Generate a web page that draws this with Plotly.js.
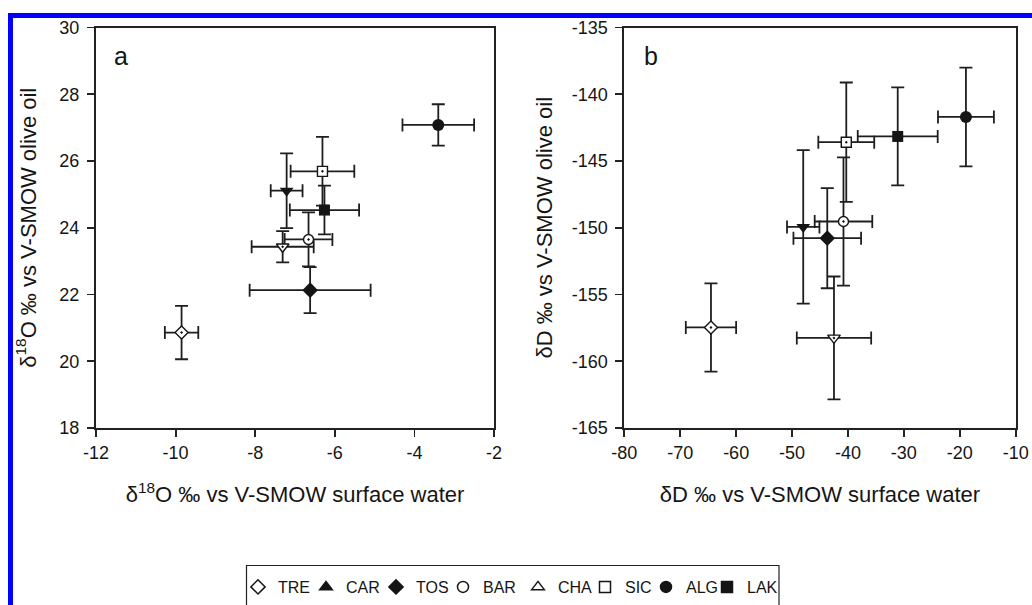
<!DOCTYPE html>
<html>
<head>
<meta charset="utf-8">
<script src="https://cdn.plot.ly/plotly-3.0.1.min.js"></script>
<style>
  html, body { margin: 0; padding: 0; background: #fff; }
  #chart { width: 1032px; height: 605px; }
</style>
</head>
<body>
<div id="chart"></div>
<script>
// ---- data ----
const categories = ['TRE', 'CAR', 'TOS', 'BAR', 'CHA', 'SIC', 'ALG', 'LAK'];

// panel a: delta 18O
const water18O    = [-9.85, -7.21, -6.62, -6.66, -7.31, -6.31, -3.40, -6.26];
const water18OErr = [0.42, 0.40, 1.52, 0.60, 0.78, 0.80, 0.90, 0.87];
const oil18O      = [20.86, 25.11, 22.13, 23.65, 23.43, 25.69, 27.08, 24.53];
const oil18OErr   = [0.80, 1.12, 0.69, 0.81, 0.47, 1.03, 0.62, 0.73];

// panel b: delta D
const waterD    = [-64.5, -48.0, -43.7, -40.8, -42.5, -40.3, -18.9, -31.1];
const waterDErr = [4.5, 2.9, 6.05, 5.15, 6.65, 5.0, 5.0, 7.15];
const oilD      = [-157.47, -149.94, -150.78, -149.53, -158.25, -143.59, -141.70, -143.16];
const oilDErr   = [3.3, 5.75, 3.75, 4.8, 4.6, 4.47, 3.7, 3.67];

// tick values
const ticksA_x = [-12, -10, -8, -6, -4, -2];
const ticksA_y = [18, 20, 22, 24, 26, 28, 30];
const ticksB_x = [-80, -70, -60, -50, -40, -30, -20, -10];
const ticksB_y = [-165, -160, -155, -150, -145, -140, -135];

// ---- styles ----
const INK = '#151515';
const plotSymbols   = ['diamond-dot', 'triangle-down', 'diamond', 'circle-dot', 'triangle-down-dot', 'square-dot', 'circle', 'square'];
const legendSymbols = ['diamond-open', 'triangle-up', 'diamond', 'circle-open', 'triangle-up-open', 'square-open', 'circle', 'square'];
const isOpen        = [true, false, false, true, true, true, false, false];
const sizes         = [10, 12, 12, 10, 11, 10, 12, 11];
// left edge (px) of each legend entry in the bottom key
const legendLeftPx  = [238, 306, 376, 443, 518, 585, 646, 707];

const FONT = '"Liberation Sans", Arial, Helvetica, sans-serif';

function markerFor(i) {
  return isOpen[i]
    ? {symbol: plotSymbols[i], size: sizes[i], color: '#ffffff', line: {color: INK, width: 1.4}}
    : {symbol: plotSymbols[i], size: sizes[i], color: INK, line: {width: 0}};
}
function errBar(arr) {
  return {type: 'data', array: arr, visible: true, color: '#1e1e1e', thickness: 1.8, width: 6.5};
}
const legendId = i => (i === 0 ? 'legend' : 'legend' + (i + 1));

const traces = [];
categories.forEach((c, i) => {
  traces.push({
    type: 'scatter', mode: 'markers', name: c, showlegend: false,
    x: [water18O[i]], y: [oil18O[i]],
    error_x: errBar([water18OErr[i]]), error_y: errBar([oil18OErr[i]]),
    marker: markerFor(i), xaxis: 'x', yaxis: 'y', cliponaxis: false
  });
  traces.push({
    type: 'scatter', mode: 'markers', name: c, showlegend: false,
    x: [waterD[i]], y: [oilD[i]],
    error_x: errBar([waterDErr[i]]), error_y: errBar([oilDErr[i]]),
    marker: markerFor(i), xaxis: 'x2', yaxis: 'y2', cliponaxis: false
  });
});
// key entries (symbols as printed in the reference key), one small legend each
categories.forEach((c, i) => {
  traces.push({
    type: 'scatter', mode: 'markers', name: c, showlegend: true, legend: legendId(i),
    x: [null], y: [null], xaxis: 'x', yaxis: 'y',
    marker: {symbol: legendSymbols[i], size: 11, color: INK, line: {color: INK, width: 1.5}}
  });
});

const axisCommon = {
  showline: true, mirror: true, linecolor: '#222', linewidth: 2,
  ticks: 'outside', ticklen: 7, tickwidth: 1.8, tickcolor: '#222',
  showgrid: false, zeroline: false,
  tickfont: {family: FONT, size: 18, color: INK},
  automargin: false, fixedrange: true
};
const titleFont = {family: FONT, size: 22, color: INK};

const W = 1032, H = 605;
const px = v => v / W;
const py = v => (H - v) / H;
const labels = arr => arr.map(v => String(v));

const layout = {
  width: W, height: H,
  margin: {l: 0, r: 0, t: 0, b: 0},
  paper_bgcolor: '#ffffff', plot_bgcolor: '#ffffff',
  font: {family: FONT, color: INK},
  showlegend: true,
  xaxis: Object.assign({}, axisCommon, {
    domain: [px(96), px(494)], range: [-12, -2], tickvals: ticksA_x, ticktext: labels(ticksA_x), anchor: 'y',
    title: {text: 'δ<sup>18</sup>O ‰ vs V-SMOW surface water', font: titleFont, standoff: 25}
  }),
  yaxis: Object.assign({}, axisCommon, {
    domain: [py(428), py(27.5)], range: [18, 30], tickvals: ticksA_y, ticktext: labels(ticksA_y), anchor: 'x',
    ticklabelstandoff: 4,
    title: {text: 'δ<sup>18</sup>O ‰ vs V-SMOW olive oil', font: titleFont, standoff: 17}
  }),
  xaxis2: Object.assign({}, axisCommon, {
    domain: [px(624.3), px(1015.7)], range: [-80, -10], tickvals: ticksB_x, ticktext: labels(ticksB_x), anchor: 'y2',
    title: {text: 'δD ‰ vs V-SMOW surface water', font: titleFont, standoff: 25}
  }),
  yaxis2: Object.assign({}, axisCommon, {
    domain: [py(428), py(27.5)], range: [-165, -135], tickvals: ticksB_y, ticktext: labels(ticksB_y), anchor: 'x2',
    ticklabelstandoff: 4,
    title: {text: 'δD ‰ vs V-SMOW olive oil', font: titleFont, standoff: 13}
  }),
  annotations: [
    {text: 'a', xref: 'x domain', yref: 'y domain', x: 0.04, y: 0.93, xanchor: 'left', yanchor: 'middle',
     showarrow: false, font: {family: FONT, size: 25, color: INK}},
    {text: 'b', xref: 'x2 domain', yref: 'y2 domain', x: 0.045, y: 0.93, xanchor: 'left', yanchor: 'middle',
     showarrow: false, font: {family: FONT, size: 25, color: INK}}
  ],
  shapes: [
    // key frame
    {type: 'rect', xref: 'paper', yref: 'paper', x0: px(246.5), x1: px(779), y0: py(612), y1: py(565.5),
     line: {color: '#222', width: 1.2}, fillcolor: 'rgba(0,0,0,0)', layer: 'below'},
    // blue page frame (top and left)
    {type: 'rect', xref: 'paper', yref: 'paper', x0: px(8), x1: 1, y0: py(18), y1: py(13),
     line: {width: 0}, fillcolor: '#0000ff'},
    {type: 'rect', xref: 'paper', yref: 'paper', x0: px(8), x1: px(13), y0: 0, y1: py(13),
     line: {width: 0}, fillcolor: '#0000ff'}
  ]
};
categories.forEach((c, i) => {
  layout[legendId(i)] = {
    orientation: 'h', yanchor: 'middle', y: py(587), xanchor: 'left', x: px(legendLeftPx[i]),
    bgcolor: 'rgba(0,0,0,0)', borderwidth: 0,
    font: {family: FONT, size: 16, color: INK}, itemwidth: 30
  };
});

Plotly.newPlot('chart', traces, layout, {staticPlot: true, displayModeBar: false});
</script>
</body>
</html>
